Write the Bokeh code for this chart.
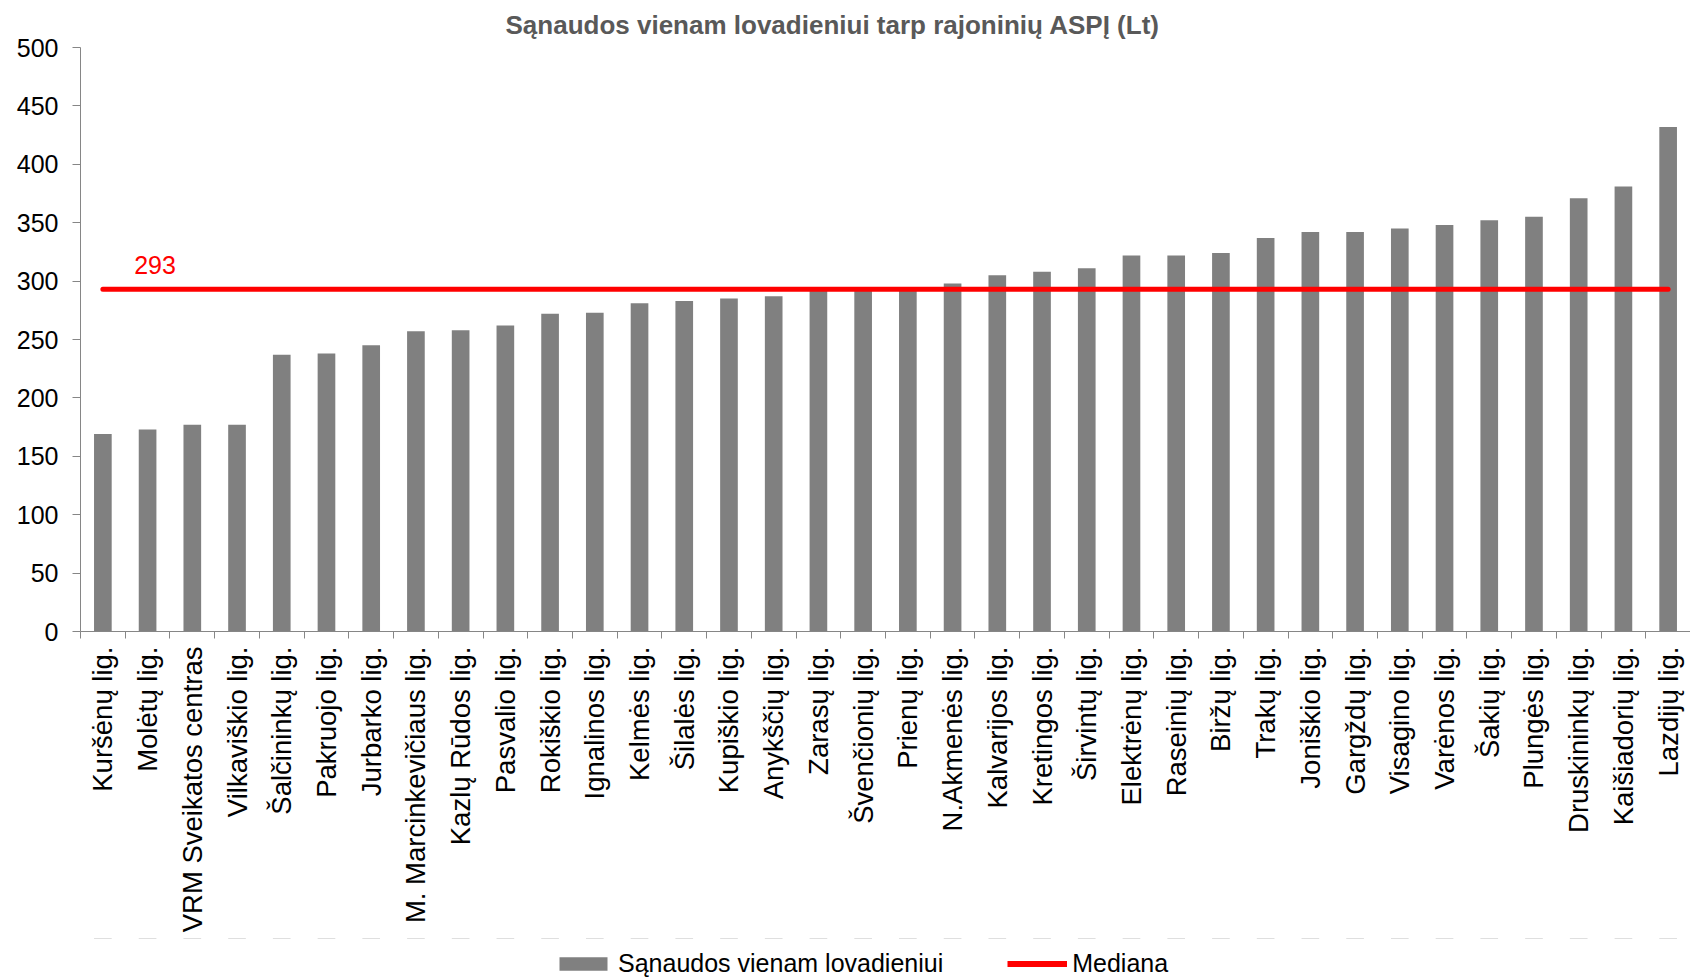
import math
from bokeh.plotting import figure
from bokeh.layouts import column
from bokeh.models import (FactorRange, Range1d, LinearAxis, CategoricalAxis, FixedTicker,
                          Label, Legend, LegendItem, ColumnDataSource)
from bokeh.embed import file_html
from bokeh.resources import INLINE

title_text = "Sąnaudos vienam lovadieniui tarp rajoninių ASPĮ (Lt)"

categories = ["Kuršėnų lig.", "Molėtų lig.", "VRM Sveikatos centras", "Vilkaviškio lig.",
              "Šalčininkų lig.", "Pakruojo lig.", "Jurbarko lig.", "M. Marcinkevičiaus lig.",
              "Kazlų Rūdos lig.", "Pasvalio lig.", "Rokiškio lig.", "Ignalinos lig.",
              "Kelmės lig.", "Šilalės lig.", "Kupiškio lig.", "Anykščių lig.", "Zarasų lig.",
              "Švenčionių lig.", "Prienų lig.", "N.Akmenės lig.", "Kalvarijos lig.",
              "Kretingos lig.", "Širvintų lig.", "Elektrėnų lig.", "Raseinių lig.",
              "Biržų lig.", "Trakų lig.", "Joniškio lig.", "Gargždų lig.", "Visagino lig.",
              "Varėnos lig.", "Šakių lig.", "Plungės lig.", "Druskininkų lig.",
              "Kaišiadorių lig.", "Lazdijų lig."]

costs = [169, 173, 177, 177, 237, 238, 245, 257, 258, 262, 272, 273, 281, 283, 285, 287, 292,
         293, 293, 298, 305, 308, 311, 322, 322, 324, 337, 342, 342, 345, 348, 352, 355, 371,
         381, 432]

median_value = 293
y_ticks = [0, 50, 100, 150, 200, 250, 300, 350, 400, 450, 500]

series_name = "Sąnaudos vienam lovadieniui"
median_name = "Mediana"

FONT = "Liberation Sans"
GREY_AXIS = "#868686"
BAR_COLOR = "#808080"
RED = "#FF0000"

n = len(categories)
src = ColumnDataSource(dict(cat=categories, val=costs, med=[median_value] * n))

p = figure(x_range=FactorRange(*categories), y_range=Range1d(0, 500),
           width=1690, height=938, output_backend="svg", toolbar_location=None,
           x_axis_location=None, min_border_left=80, min_border_right=0,
           min_border_top=45, min_border_bottom=307)
p.outline_line_color = None
p.grid.visible = False
p.background_fill_color = "white"
p.border_fill_color = "white"

# title
p.title.text = title_text
p.title.align = "left"
p.title.offset = 425
p.title.standoff = 15
p.title.text_font = FONT
p.title.text_font_size = "26px"
p.title.text_font_style = "bold"
p.title.text_color = "#595959"

# y axis
ya = p.yaxis[0]
ya.ticker = FixedTicker(ticks=y_ticks)
ya.major_tick_in = 0
ya.major_tick_out = 8
ya.minor_tick_line_color = None
ya.axis_line_color = GREY_AXIS
ya.major_tick_line_color = GREY_AXIS
ya.major_label_text_font = FONT
ya.major_label_text_font_size = "25px"
ya.major_label_text_color = "black"
ya.major_label_standoff = 14

# boundary ticks axis (ticks between categories)
tick_axis = LinearAxis(ticker=FixedTicker(ticks=list(range(n + 1))),
                       major_tick_in=0, major_tick_out=7,
                       minor_tick_line_color=None,
                       axis_line_color=GREY_AXIS, major_tick_line_color=GREY_AXIS,
                       major_label_text_font_size="0px", major_label_text_color=None,
                       major_label_standoff=0)
p.add_layout(tick_axis, "below")

# category labels axis
cat_axis = CategoricalAxis(axis_line_color=None, major_tick_line_color=None,
                           major_tick_in=0, major_tick_out=0,
                           major_label_orientation=math.pi / 2,
                           major_label_text_font=FONT,
                           major_label_text_font_size="27.5px",
                           major_label_text_color="black",
                           major_label_standoff=8)
p.add_layout(cat_axis, "below")

bars = p.vbar(x="cat", top="val", width=0.395, source=src,
              fill_color=BAR_COLOR, line_color=None)
med_line = p.line(x="cat", y="med", source=src, line_color=RED,
                  line_width=5, line_cap="round")

p.add_layout(Label(x=1.2, y=median_value, y_offset=24, text=str(median_value),
                   text_align="left", text_baseline="alphabetic",
                   text_font=FONT, text_font_size="25px", text_color=RED))

# legend strip below the chart (legend-only renderers, nothing visible drawn)
pl = figure(width=1690, height=40, output_backend="svg", toolbar_location=None,
            x_range=p.x_range, y_range=Range1d(-200, -199),
            min_border_left=0, min_border_right=0, min_border_top=0, min_border_bottom=0,
            x_axis_location=None, y_axis_location=None)
pl.outline_line_color = None
pl.grid.visible = False
pl.background_fill_color = "white"
pl.border_fill_color = "white"
lg_bar = pl.vbar(x="cat", top="med", bottom="med", width=0.395, source=src,
                 fill_color=BAR_COLOR, line_color=None)
lg_line = pl.line(x="cat", y="med", source=src, line_color=RED, line_width=6)

legend = Legend(items=[LegendItem(label=series_name, renderers=[lg_bar]),
                       LegendItem(label=median_name, renderers=[lg_line])],
                orientation="horizontal", location=(473, 0),
                glyph_width=60, glyph_height=17, label_standoff=5, spacing=64,
                padding=0, margin=0, border_line_color=None,
                background_fill_alpha=0, label_text_font=FONT,
                label_text_font_size="25px", label_text_color="black",
                label_height=14)
pl.add_layout(legend)

layout = column(p, pl, spacing=0)
open("out.html", "w").write(file_html(layout, INLINE))
